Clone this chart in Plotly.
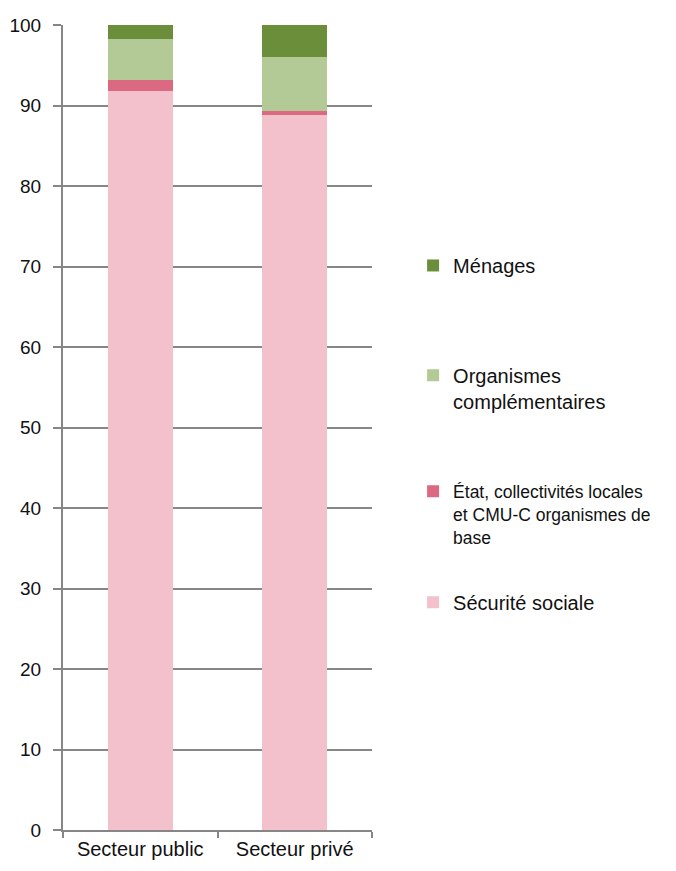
import plotly.graph_objects as go

# Données (en %)
secteurs = ['Secteur public', 'Secteur privé']
securite_sociale = [91.8, 88.8]
etat_collectivites = [1.4, 0.5]
organismes_compl = [5.1, 6.7]
menages = [1.7, 4.0]

# (nom, valeurs, couleur, légende, position y, taille de police)
series = [
    ('Sécurité sociale', securite_sociale, '#F2C1CC', 'legend4', 0.307, 20),
    ('État, collectivités locales<br>et CMU-C organismes de<br>base', etat_collectivites, '#DC6982', 'legend3', 0.443, 17.5),
    ('Organismes<br>complémentaires', organismes_compl, '#B3C996', 'legend2', 0.589, 20),
    ('Ménages', menages, '#6B8E3A', 'legend', 0.7255, 20),
]

FONT = dict(family='Liberation Sans, Arial, sans-serif', size=20, color='#111111')

fig = go.Figure()
for name, values, color, leg, _, _ in series:
    fig.add_trace(go.Bar(
        x=secteurs,
        y=values,
        name=name,
        marker=dict(color=color, line=dict(width=0)),
        legend=leg,
        hovertemplate='%{x}<br>' + name.replace('<br>', ' ') + ': %{y:.1f}<extra></extra>'
    ))

layout_legends = {}
for name, values, color, leg, ypos, fsize in series:
    layout_legends[leg] = dict(
        x=1.133, y=ypos, xanchor='left', yanchor='top',
        font=dict(FONT, size=fsize), valign='top', bgcolor='rgba(0,0,0,0)',
        itemwidth=30,
    )

# la page ajoute 8 px de marge autour du graphique
fig.update_layout(
    barmode='stack',
    bargap=0.58,
    width=660,
    height=855,
    margin=dict(l=55, r=296, t=17, b=33, autoexpand=False),
    paper_bgcolor='white',
    plot_bgcolor='white',
    font=FONT,
    showlegend=True,
    xaxis=dict(
        showline=True, linecolor='#868686', linewidth=2,
        ticks='outside', tickson='boundaries', ticklen=6, tickcolor='#868686', tickwidth=2,
        ticklabelstandoff=0,
        showgrid=False,
    ),
    yaxis=dict(
        range=[0, 100], dtick=10,
        showline=True, linecolor='#868686', linewidth=2,
        ticks='outside', ticklen=8, tickcolor='#868686', tickwidth=2,
        ticklabelstandoff=8, tickfont=dict(size=19),
        showgrid=True, gridcolor='#868686', gridwidth=2,
        zeroline=False,
    ),
    **layout_legends
)

fig.write_html("out.html")
